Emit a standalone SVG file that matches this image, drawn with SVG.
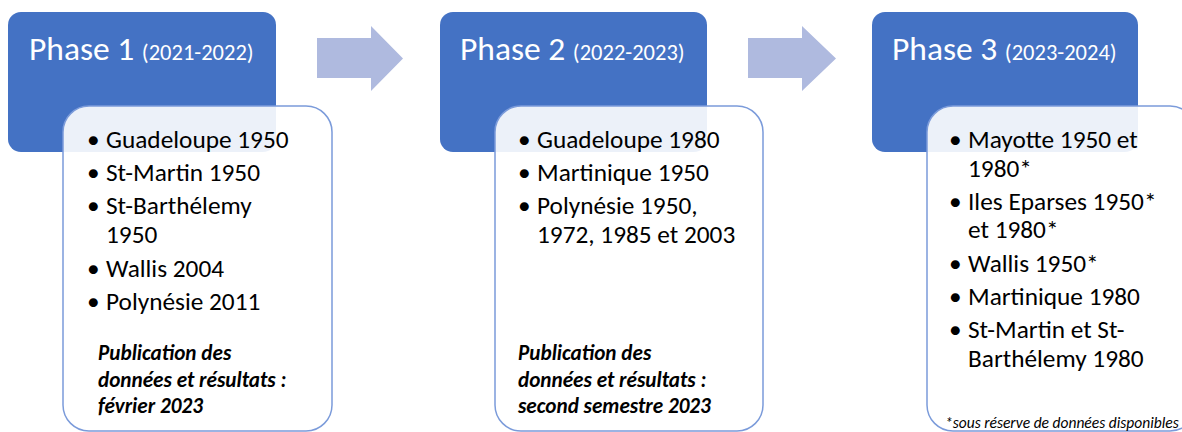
<svg xmlns="http://www.w3.org/2000/svg" width="1182" height="432" viewBox="0 0 1182 432">
<style>
.hdr{fill:#4472C4}
.card{fill:#ffffff;fill-opacity:0.9;stroke:#7b9bda;stroke-width:1.5}
.arrow{fill:#afbadf}
.t{font-family:Carlito,Lato,"Open Sans",sans-serif;fill:#000000}
.ph{font-family:Carlito,Lato,"Open Sans",sans-serif;fill:#ffffff;font-size:33.5px}
.yr{font-size:22.5px}
.li{font-size:25.3px}
.pub{font-size:21.2px;font-weight:bold;font-style:italic}
.note{font-size:15.5px;font-style:italic}
</style>
<rect width="1182" height="432" fill="#ffffff"/>
<g id="connectors">
<polygon class="arrow" points="317,38 371,38 371,26 403,58.5 371,91 371,78 317,78"/>
<polygon class="arrow" points="748,38 802,38 802,26 836,58.5 802,91 802,78 748,78"/>
</g>
<g id="phase1">
<rect class="hdr" x="8" y="12" width="268" height="140" rx="13"/>
<text class="ph" x="29" y="60">Phase 1 <tspan class="yr">(2021-2022)</tspan></text>
<rect class="card" x="63" y="106" width="269" height="325" rx="26"/>
<g class="t li">
<text x="87" y="148">•</text><text x="106" y="148">Guadeloupe 1950</text>
<text x="87" y="181">•</text><text x="106" y="181">St-Martin 1950</text>
<text x="87" y="214">•</text><text x="106" y="214">St-Barthélemy</text>
<text x="106" y="243">1950</text>
<text x="87" y="277">•</text><text x="106" y="277">Wallis 2004</text>
<text x="87" y="310">•</text><text x="106" y="310">Polynésie 2011</text>
</g>
<g class="t pub">
<text x="98" y="360">Publication des</text>
<text x="98" y="387">données et résultats :</text>
<text x="98" y="413">février 2023</text>
</g>
</g>
<g id="phase2">
<rect class="hdr" x="440" y="12" width="267" height="140" rx="13"/>
<text class="ph" x="460" y="60">Phase 2 <tspan class="yr">(2022-2023)</tspan></text>
<rect class="card" x="495" y="106" width="268" height="325" rx="26"/>
<g class="t li">
<text x="518" y="148">•</text><text x="537" y="148">Guadeloupe 1980</text>
<text x="518" y="181">•</text><text x="537" y="181">Martinique 1950</text>
<text x="518" y="214">•</text><text x="537" y="214">Polynésie 1950,</text>
<text x="537" y="243">1972, 1985 et 2003</text>
</g>
<g class="t pub">
<text x="518" y="360">Publication des</text>
<text x="518" y="387">données et résultats :</text>
<text x="518" y="413">second semestre 2023</text>
</g>
</g>
<g id="phase3">
<rect class="hdr" x="872" y="12" width="266" height="140" rx="13"/>
<text class="ph" x="892" y="60">Phase 3 <tspan class="yr">(2023-2024)</tspan></text>
<rect class="card" x="927" y="106" width="269" height="325" rx="26"/>
<g class="t li">
<text x="949" y="148">•</text><text x="968" y="148">Mayotte 1950 et</text>
<text x="968" y="177">1980*</text>
<text x="949" y="210">•</text><text x="968" y="210">Iles Eparses 1950*</text>
<text x="968" y="238">et 1980*</text>
<text x="949" y="272">•</text><text x="968" y="272">Wallis 1950*</text>
<text x="949" y="305">•</text><text x="968" y="305">Martinique 1980</text>
<text x="949" y="338">•</text><text x="968" y="338">St-Martin et St-</text>
<text x="968" y="367">Barthélemy 1980</text>
</g>
<text class="t note" x="945" y="428">*sous réserve de données disponibles</text>
</g>
</svg>
